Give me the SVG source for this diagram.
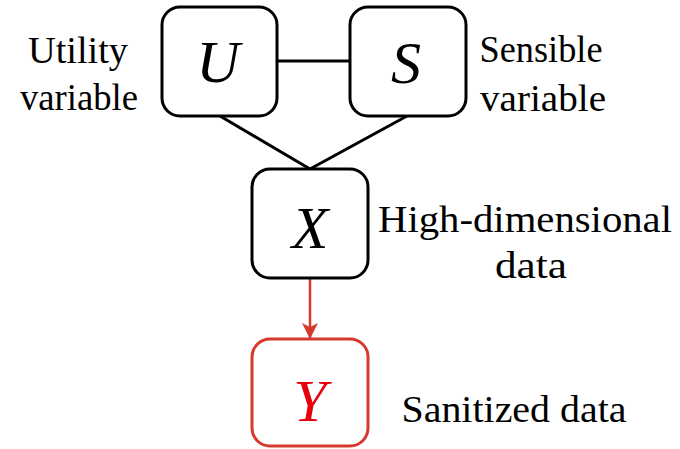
<svg xmlns="http://www.w3.org/2000/svg" width="680" height="449" viewBox="0 0 680 449" font-family="Liberation Serif, serif">
<style>
text{font-family:'Liberation Serif',serif}
.box{fill:#fff;stroke:#000;stroke-width:3}
.red{stroke:#d63a2f}
.sym{font-style:italic;font-size:60px;text-anchor:middle}
.lbl{font-size:37px;fill:#000;text-anchor:middle}
.edge{stroke:#000;stroke-width:3;fill:none}
</style>
<defs>
<marker id="arr" viewBox="0 0 16 16" refX="15" refY="8" markerWidth="16" markerHeight="16" markerUnits="userSpaceOnUse" orient="auto">
<path d="M0,0 L16,8 L0,16 L4,8 Z" fill="#d63a2f"/>
</marker>
</defs>
<g id="edges">
<line class="edge" x1="277" y1="61" x2="350" y2="61"/>
<line class="edge" x1="220" y1="116" x2="310" y2="169"/>
<line class="edge" x1="407" y1="116" x2="310" y2="169"/>
<line x1="310" y1="279" x2="310" y2="338" stroke="#d63a2f" stroke-width="2.5" marker-end="url(#arr)"/>
</g>
<g id="U">
<rect class="box" x="162" y="7" width="115" height="109" rx="18"/>
<text class="sym" x="218" y="82">U</text>
<text class="lbl" x="78" y="63" textLength="100" lengthAdjust="spacingAndGlyphs">Utility</text>
<text class="lbl" x="79" y="110" textLength="118" lengthAdjust="spacingAndGlyphs">variable</text>
</g>
<g id="S">
<rect class="box" x="350" y="7" width="116" height="109" rx="18"/>
<text class="sym" x="406" y="83">S</text>
<text class="lbl" x="541" y="62" textLength="123" lengthAdjust="spacingAndGlyphs">Sensible</text>
<text class="lbl" x="543" y="111" textLength="126" lengthAdjust="spacingAndGlyphs">variable</text>
</g>
<g id="X">
<rect class="box" x="252" y="169" width="116" height="109" rx="18"/>
<text class="sym" x="310" y="248">X</text>
<text class="lbl" x="525" y="232" textLength="294" lengthAdjust="spacingAndGlyphs">High-dimensional</text>
<text class="lbl" x="531" y="278" textLength="72" lengthAdjust="spacingAndGlyphs">data</text>
</g>
<g id="Y">
<rect class="box red" x="252" y="339" width="116" height="107" rx="18"/>
<text class="sym" x="310" y="421" fill="#e8000b">Y</text>
<text class="lbl" x="514" y="422" textLength="225" lengthAdjust="spacingAndGlyphs">Sanitized data</text>
</g>
</svg>
